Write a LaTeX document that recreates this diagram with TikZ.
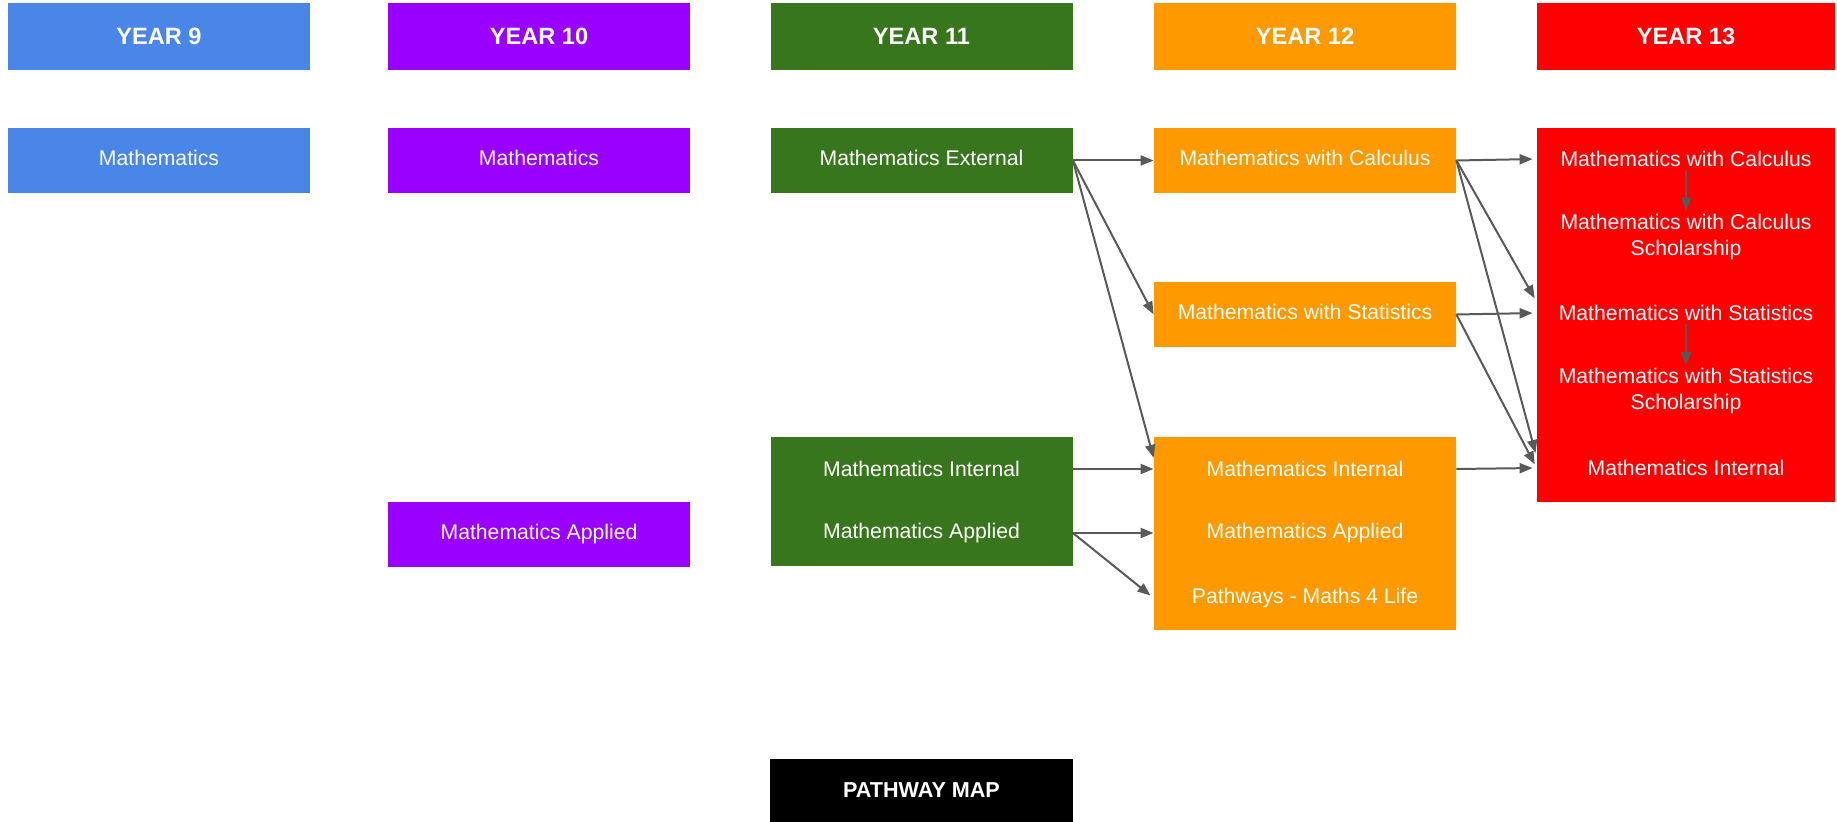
\documentclass[tikz,border=0pt]{standalone}
\usepackage{fontspec}
\setmainfont{Liberation Sans}
\usepackage{xcolor}
\usetikzlibrary{arrows.meta}
\definecolor{blue9}{HTML}{4A86E8}
\definecolor{purple10}{HTML}{9900FF}
\definecolor{green11}{HTML}{38761D}
\definecolor{orange12}{HTML}{FF9900}
\definecolor{red13}{HTML}{FF0000}
\definecolor{arrowgrey}{HTML}{595959}
\tikzset{
  yearhead/.style={fill=#1, text=white, inner sep=0pt, minimum width=151pt, minimum height=33.5pt,
    font=\fontsize{11.8}{14}\selectfont\bfseries},
  coursebox/.style={fill=#1, text=white, inner sep=0pt, minimum width=151pt, minimum height=32.5pt,
    text height=0.75em, text depth=0.25em, font=\fontsize{10.6}{13}\selectfont},
  panelbox/.style={fill=#1, inner sep=0pt, minimum width=151pt},
  subject/.style={text=white, inner sep=1.5pt, minimum width=151pt, align=center,
    font=\fontsize{10.6}{13}\selectfont},
  mapbox/.style={fill=black, text=white, inner sep=0pt, minimum width=151.5pt, minimum height=31.5pt,
    font=\fontsize{10.8}{13}\selectfont\bfseries},
  link/.style={draw=arrowgrey, line width=1pt, -{Triangle[length=6.5pt,width=5pt]}}
}
\begin{document}
\begin{tikzpicture}[x=0.5pt,y=0.5pt,yscale=-1]
    \useasboundingbox (0,0) rectangle (1837,822);
    \node [yearhead=blue9] (y9) at (159,36.5) {YEAR 9};
    \node [yearhead=purple10] (y10) at (539,36.5) {YEAR 10};
    \node [yearhead=green11] (y11) at (921.5,36.5) {YEAR 11};
    \node [yearhead=orange12] (y12) at (1305,36.5) {YEAR 12};
    \node [yearhead=red13, minimum width=149pt] (y13) at (1686,36.5) {YEAR 13};
    \node [coursebox=blue9] (m9) at (159,160.5) {Mathematics};
    \node [coursebox=purple10] (m10) at (539,160.5) {Mathematics};
    \node [coursebox=purple10] (m10app) at (539,534.5) {Mathematics Applied};
    \node [coursebox=green11] (m11ext) at (921.5,160.5) {Mathematics External};
    \node [coursebox=orange12] (m12calc) at (1305,160.5) {Mathematics with Calculus};
    \node [coursebox=orange12] (m12stats) at (1305,314.5) {Mathematics with Statistics};
    \node [panelbox=green11, minimum height=64.5pt] (p11) at (921.5,501.5) {};
    \node [panelbox=orange12, minimum height=96.5pt] (p12) at (1305,533.5) {};
    \node [panelbox=red13, minimum width=149pt, minimum height=187pt] (p13) at (1686,315) {};
    \node [subject] (m11int) at (921.5,469) {Mathematics Internal};
    \node [subject] (m11app) at (921.5,533) {Mathematics Applied};
    \node [subject] (m12int) at (1305,469) {Mathematics Internal};
    \node [subject] (m12app) at (1305,533) {Mathematics Applied};
    \node [subject] (m12life) at (1305,598) {Pathways - Maths 4 Life};
    \node [subject, minimum width=149pt] (m13calc) at (1686,159) {Mathematics with Calculus};
    \node [subject, minimum width=149pt] (m13calcs) at (1686,237) {Mathematics with Calculus\\Scholarship};
    \node [subject, minimum width=149pt] (m13stats) at (1686,313) {Mathematics with Statistics};
    \node [subject, minimum width=149pt] (m13statss) at (1686,391.5) {Mathematics with Statistics\\Scholarship};
    \node [subject, minimum width=149pt] (m13int) at (1686,468) {Mathematics Internal};
    \node [mapbox] (map) at (921.5,790.5) {PATHWAY MAP};
    \draw [link] (m11ext.east) -- (m12calc.west);
    \draw [link] (m11ext.east) -- (m12stats.west);
    \draw [link] (m11ext.east) -- (m12int.north west);
    \draw [link] (m11int.east) -- (m12int.west);
    \draw [link] (m11app.east) -- (m12app.west);
    \draw [link, shorten >=2pt] (m11app.east) -- (m12life.west);
    \draw [link, shorten >=2pt] (m12calc.east) -- (m13calc.west);
    \draw [link, shorten >=2pt] (m12calc.east) -- (m13stats.north west);
    \draw [link, shorten >=2pt] (m12calc.east) -- (m13int.north west);
    \draw [link, shorten >=2pt] (m12stats.east) -- (m13stats.west);
    \draw [link, shorten >=2pt] (m12stats.east) -- (m13int.west);
    \draw [link, shorten >=2pt] (m12int.east) -- (m13int.west);
    \draw [link] (m13calc.south) -- (m13calcs.north);
    \draw [link] (m13stats.south) -- (m13statss.north);
\end{tikzpicture}
\end{document}
